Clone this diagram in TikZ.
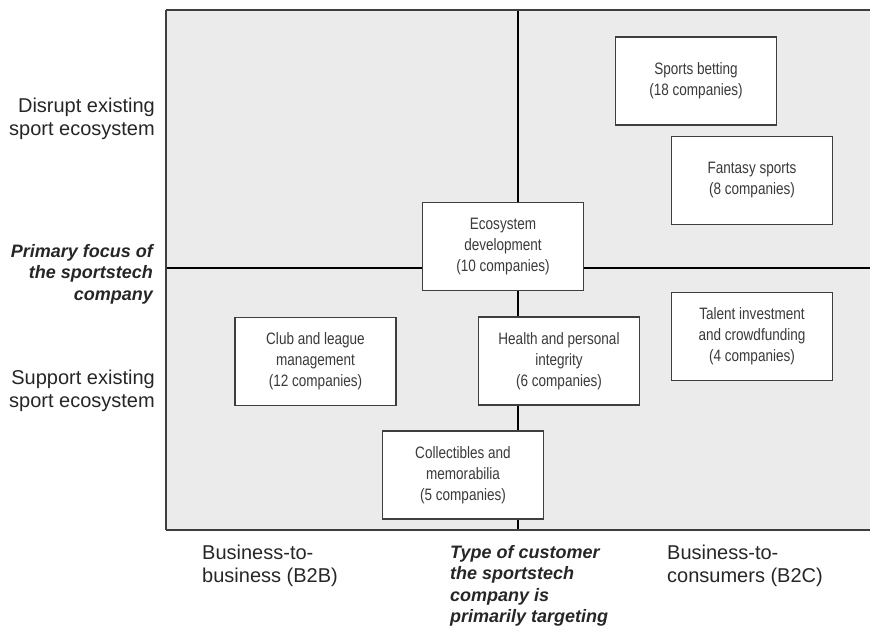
\documentclass[tikz,border=0pt]{standalone}
\usepackage{fontspec}
\setmainfont{Liberation Sans}
\newfontfamily\narrowfont[FakeStretch=0.82]{Liberation Sans}
\usepackage{tikz}
\definecolor{panelgrey}{RGB}{235,235,235}
\definecolor{framegrey}{RGB}{62,62,62}
\definecolor{boxtext}{RGB}{58,58,58}

\begin{document}
\begin{tikzpicture}[x=1pt,y=1pt,yscale=-1,xscale=1,
  segbox/.style={draw=framegrey,line width=1.8pt,fill=white,minimum width=161pt,minimum height=88pt,inner sep=0pt,align=center,text=boxtext,font=\narrowfont\fontsize{16.5}{21}\selectfont},
  axislabel/.style={inner sep=0pt,text=black!85,font=\fontsize{20}{22.5}\selectfont},
  axistitle/.style={inner sep=0pt,text=black!85,font=\bfseries\itshape\fontsize{18}{21.5}\selectfont}]
\useasboundingbox (0,0) rectangle (870,632);

%Shape: Panel
\fill[panelgrey] (166,10) rectangle (870,530);
\coordinate (midtop) at (518,10);
\coordinate (midbot) at (518,530);
\coordinate (midleft) at (166,268);
\coordinate (midright) at (870,268);
%Straight Lines: axes
\draw[line width=1.4pt] (midtop) -- (midbot);
\draw[line width=1.4pt] (midleft) -- (midright);
%Straight Lines: frame
\draw[framegrey,line width=2.8pt] (166,10) -- (870,10);
\draw[framegrey,line width=2.8pt] (166,530) -- (870,530);
\draw[framegrey,line width=1.8pt] (166,10) -- (166,530);

% Segment boxes
\node[segbox] (betting) at (696,81) {Sports betting\\(18 companies)};
\node[segbox] (fantasy) at (752,180.5) {Fantasy sports\\(8 companies)};
\node[segbox] (ecosystem) at (503,246.5) {Ecosystem\\development\\(10 companies)};
\node[segbox] (talent) at (752,336.5) {Talent investment\\and crowdfunding\\(4 companies)};
\node[segbox] (club) at (315.5,361.5) {Club and league\\management\\(12 companies)};
\node[segbox] (health) at (559,361) {Health and personal\\integrity\\(6 companies)};
\node[segbox] (collect) at (463,475) {Collectibles and\\memorabilia\\(5 companies)};

% Text Node
\node[axislabel,anchor=east,align=right] (disrupt) at (155,119) {Disrupt existing\\sport ecosystem};
% Text Node
\node[axistitle,anchor=east,align=right] (focus) at (153,274) {Primary focus of\\the sportstech\\company};
% Text Node
\node[axislabel,anchor=east,align=right] (support) at (155,391) {Support existing\\sport ecosystem};
% Text Node
\node[axislabel,anchor=north west,align=left] (btob) at (202,545) {Business-to-\\business (B2B)};
% Text Node
\node[axistitle,anchor=north west,align=left] (customer) at (450,545) {Type of customer\\the sportstech\\company is\\primarily targeting};
% Text Node
\node[axislabel,anchor=north west,align=left] (btoc) at (667,545) {Business-to-\\consumers (B2C)};

\end{tikzpicture}
\end{document}
